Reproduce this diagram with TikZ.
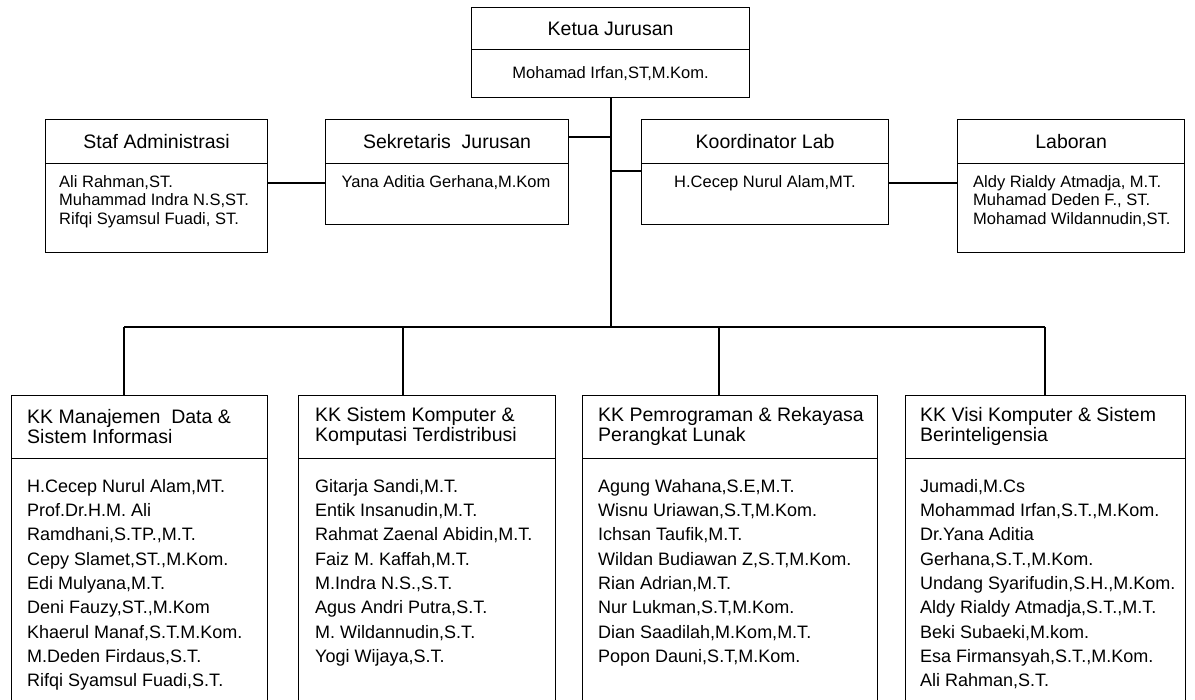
\documentclass[tikz,border=0pt]{standalone}
\usepackage{fontspec}
\setmainfont{Liberation Sans}

\tikzset{
  kotak/.style={draw, line width=1.2pt, inner sep=0pt, anchor=north west},
  judul/.style={font=\fontsize{19.5}{21}\selectfont},
  judulkk/.style={font=\fontsize{19.5}{20.7}\selectfont, inner sep=0pt, align=left, anchor=west},
  isi/.style={font=\fontsize{16.5}{18.7}\selectfont, inner sep=0pt, align=left, anchor=north west},
  isikk/.style={font=\fontsize{18}{24.3}\selectfont, inner sep=0pt, align=left, anchor=north west},
  garis/.style={line width=1.2pt},
}

\def\ybus{327}

\begin{document}
\begin{tikzpicture}[x=1pt, y=-1pt]
  \useasboundingbox (0,0) rectangle (1195,700);
  \clip (0,0) rectangle (1195,700);

  % ketua jurusan
  \node[kotak, judul, minimum width=278pt, minimum height=42pt] (ketua) at (471,7) {Ketua Jurusan};
  \node[kotak, font=\fontsize{16.5}{18}\selectfont, minimum width=278pt, minimum height=48pt] (ketuaNama) at (471,49) {Mohamad Irfan,ST,M.Kom.};

  % staf administrasi
  \node[kotak, judul, minimum width=222pt, minimum height=44pt] (staf) at (45,119) {Staf Administrasi};
  \node[kotak, minimum width=222pt, minimum height=89pt] (stafIsi) at (45,163) {};
  \node[isi] (stafNama) at (59,175) {Ali Rahman,ST.\\Muhammad Indra N.S,ST.\\Rifqi Syamsul Fuadi, ST.};

  % sekretaris jurusan
  \node[kotak, judul, minimum width=243pt, minimum height=44pt] (sek) at (325,119) {Sekretaris\ \ Jurusan};
  \node[kotak, minimum width=243pt, minimum height=61pt] (sekIsi) at (325,163) {};
  \node[isi, anchor=north] (sekNama) at (446,175) {Yana Aditia Gerhana,M.Kom};

  % koordinator lab
  \node[kotak, judul, minimum width=247pt, minimum height=44pt] (koor) at (641,119) {Koordinator Lab};
  \node[kotak, minimum width=247pt, minimum height=61pt] (koorIsi) at (641,163) {};
  \node[isi, anchor=north] (koorNama) at (765,175) {H.Cecep Nurul Alam,MT.};

  % laboran
  \node[kotak, judul, minimum width=227pt, minimum height=44pt] (lab) at (957,119) {Laboran};
  \node[kotak, minimum width=227pt, minimum height=89pt] (labIsi) at (957,163) {};
  \node[isi] (labNama) at (973,175) {Aldy Rialdy Atmadja, M.T.\\Muhamad Deden F., ST.\\Mohamad Wildannudin,ST.};

  % kelompok keahlian
  \node[kotak, minimum width=256pt, minimum height=63pt] (kk1) at (11,395) {};
  \node[kotak, minimum width=256pt, minimum height=247pt] (kk1Isi) at (11,458) {};
  \node[judulkk] (kk1Judul) at (27,426.5) {KK Manajemen\ \ Data \&\\Sistem Informasi};
  \node[isikk] (kk1Nama) at (27,479) {H.Cecep Nurul Alam,MT.\\Prof.Dr.H.M. Ali\\Ramdhani,S.TP.,M.T.\\Cepy Slamet,ST.,M.Kom.\\Edi Mulyana,M.T.\\Deni Fauzy,ST.,M.Kom\\Khaerul Manaf,S.T.M.Kom.\\M.Deden Firdaus,S.T.\\Rifqi Syamsul Fuadi,S.T.};

  \node[kotak, minimum width=257pt, minimum height=63pt] (kk2) at (298,395) {};
  \node[kotak, minimum width=257pt, minimum height=247pt] (kk2Isi) at (298,458) {};
  \node[judulkk] (kk2Judul) at (315,426.5) {KK Sistem Komputer \&\\Komputasi Terdistribusi};
  \node[isikk] (kk2Nama) at (315,479) {Gitarja Sandi,M.T.\\Entik Insanudin,M.T.\\Rahmat Zaenal Abidin,M.T.\\Faiz M.\ Kaffah,M.T.\\M.Indra N.S.,S.T.\\Agus Andri Putra,S.T.\\M. Wildannudin,S.T.\\Yogi Wijaya,S.T.};

  \node[kotak, minimum width=295pt, minimum height=63pt] (kk3) at (582,395) {};
  \node[kotak, minimum width=295pt, minimum height=247pt] (kk3Isi) at (582,458) {};
  \node[judulkk] (kk3Judul) at (598,426.5) {KK Pemrograman \& Rekayasa\\Perangkat Lunak};
  \node[isikk] (kk3Nama) at (598,479) {Agung Wahana,S.E,M.T.\\Wisnu Uriawan,S.T,M.Kom.\\Ichsan Taufik,M.T.\\Wildan Budiawan Z,S.T,M.Kom.\\Rian Adrian,M.T.\\Nur Lukman,S.T,M.Kom.\\Dian Saadilah,M.Kom,M.T.\\Popon Dauni,S.T,M.Kom.};

  \node[kotak, minimum width=280pt, minimum height=63pt] (kk4) at (905,395) {};
  \node[kotak, minimum width=280pt, minimum height=247pt] (kk4Isi) at (905,458) {};
  \node[judulkk] (kk4Judul) at (920,426.5) {KK Visi Komputer \& Sistem\\Berinteligensia};
  \node[isikk] (kk4Nama) at (920,479) {Jumadi,M.Cs\\Mohammad Irfan,S.T.,M.Kom.\\Dr.Yana Aditia\\Gerhana,S.T.,M.Kom.\\Undang Syarifudin,S.H.,M.Kom.\\Aldy Rialdy Atmadja,S.T.,M.T.\\Beki Subaeki,M.kom.\\Esa Firmansyah,S.T.,M.Kom.\\Ali Rahman,S.T.};

  % titik sambungan
  \coordinate (tSek) at (611,137);
  \coordinate (tKoor) at (611,171);
  \coordinate (tStaf) at (296,183);
  \coordinate (tLab) at (920,183);
  \coordinate (t1) at (124,\ybus);
  \coordinate (t2) at (403,\ybus);
  \coordinate (t3) at (719,\ybus);
  \coordinate (t4) at (1045,\ybus);

  % garis utama
  \draw[garis] (ketuaNama.south -| tSek) -- (tSek |- t1);
  \draw[garis] (sek.east |- tSek) -- (tSek);
  \draw[garis] (tKoor) -- (koorIsi.west |- tKoor);
  \draw[garis] (stafIsi.east |- tStaf) -- (sekIsi.west |- tStaf);
  \draw[garis] (koorIsi.east |- tLab) -- (labIsi.west |- tLab);

  % garis ke kelompok keahlian
  \draw[garis] (t1) -- (t4);
  \draw[garis] (t1) -- (t1 |- kk1.north);
  \draw[garis] (t2) -- (t2 |- kk2.north);
  \draw[garis] (t3) -- (t3 |- kk3.north);
  \draw[garis] (t4) -- (t4 |- kk4.north);
\end{tikzpicture}
\end{document}
